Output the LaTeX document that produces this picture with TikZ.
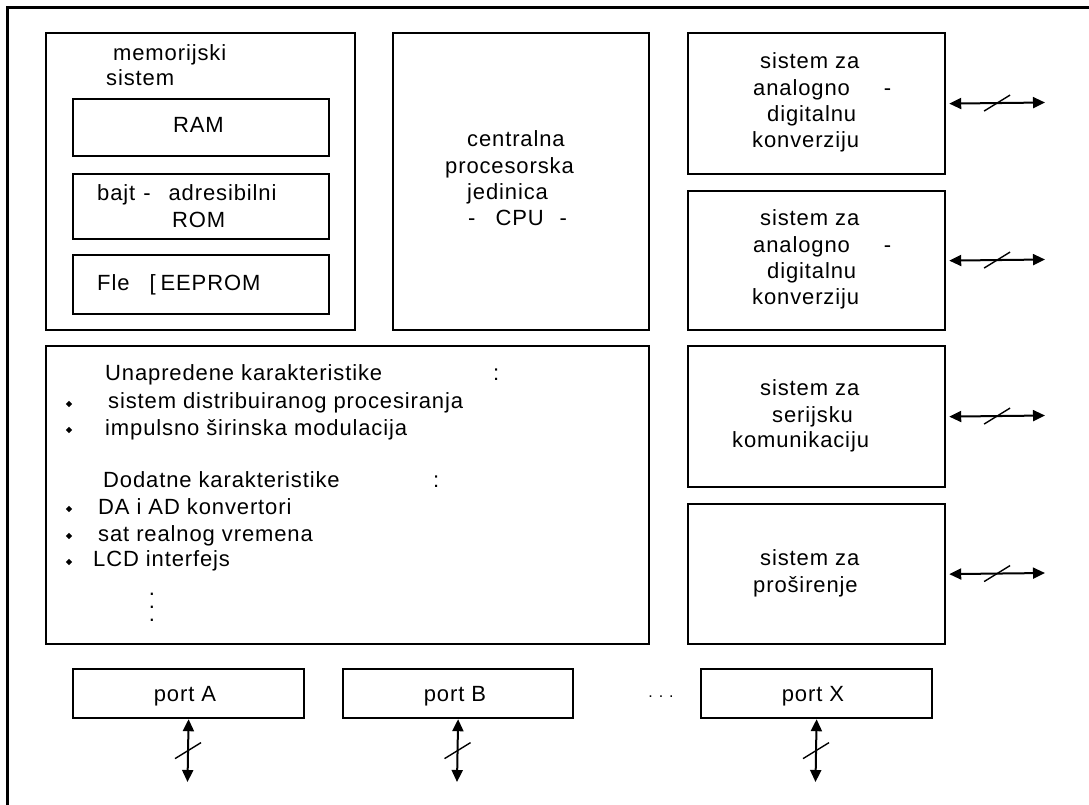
\documentclass[tikz,border=0pt]{standalone}
\usepackage{fontspec}
\setmainfont{Liberation Sans}[LetterSpace=4.0]
\usetikzlibrary{arrows.meta,shapes.geometric}
\begin{document}
\begin{tikzpicture}[x=1pt,y=-1pt,
  box/.style={draw, line width=2.2pt, anchor=north west, inner sep=0pt},
  txt/.style={anchor=base west, inner sep=0pt, font=\fontsize{22}{26}\selectfont},
  biarrow/.style={line width=2pt, {Triangle[length=12pt,width=11pt]}-{Triangle[length=12pt,width=11pt]}},
  slashline/.style={line width=1.4pt},
  bulletmark/.style={diamond, fill, inner sep=0pt, minimum size=6.5pt},
  dotmark/.style={anchor=base, inner sep=0pt, text height=3pt, text depth=0pt, font=\fontsize{22}{26}\selectfont}]
\useasboundingbox (0,0) rectangle (1089,804);
% outer frame (only top and left are visible)
\draw[line width=2.2pt] (1095,7.5) -- (7.5,7.5) -- (7.5,810);

% memory system
\node[box, minimum width=309pt, minimum height=297pt] (mem) at (45,32) {};
\node[txt] (memt1) at (113,60) {memorijski};
\node[txt] (memt2) at (106,85) {sistem};
\node[box, minimum width=256pt, minimum height=57pt] (ram) at (72,98) {};
\node[txt] (ramt) at (173,132) {RAM};
\node[box, minimum width=256pt, minimum height=65pt] (rom) at (72,173) {};
\node[txt] (romt1) at (97,200) {bajt\hspace{8pt}-\hspace{18pt}adresibilni};
\node[txt] (romt2) at (172,227) {ROM};
\node[box, minimum width=256pt, minimum height=59pt] (eep) at (72,254) {};
\node[txt] (eept) at (97,290) {Fle\hspace{20pt}[\hspace{5pt}EEPROM};

% CPU
\node[box, minimum width=256pt, minimum height=297pt] (cpu) at (392,32) {};
\node[txt] (cput1) at (467,146) {centralna};
\node[txt] (cput2) at (445,173) {procesorska};
\node[txt] (cput3) at (467,199) {jedinica};
\node[txt] (cput4) at (468,225) {-\hspace{20pt}CPU\hspace{16pt}-};

% right column
\node[box, minimum width=257pt, minimum height=141pt] (adc1) at (687,32) {};
\node[txt] (a1t1) at (760,68) {sistem za};
\node[txt] (a1t2) at (753,95) {analogno\hspace{34pt}-};
\node[txt] (a1t3) at (767,121) {digitalnu};
\node[txt] (a1t4) at (752,147) {konverziju};

\node[box, minimum width=257pt, minimum height=139pt] (adc2) at (687,190) {};
\node[txt] (a2t1) at (760,225) {sistem za};
\node[txt] (a2t2) at (753,252) {analogno\hspace{34pt}-};
\node[txt] (a2t3) at (767,278) {digitalnu};
\node[txt] (a2t4) at (752,304) {konverziju};

\node[box, minimum width=257pt, minimum height=141pt] (ser) at (687,345) {};
\node[txt] (st1) at (760,395) {sistem za};
\node[txt] (st2) at (772,422) {serijsku};
\node[txt] (st3) at (732,447) {komunikaciju};

\node[box, minimum width=257pt, minimum height=140pt] (ext) at (687,503) {};
\node[txt] (et1) at (760,565) {sistem za};
\node[txt] (et2) at (753,592) {proširenje};

% features
\node[box, minimum width=603pt, minimum height=298pt] (feat) at (45,345) {};
\node[txt] (f1) at (105,380) {Unapredene karakteristike};
\node[txt] (f1c) at (493,380) {:};
\node[bulletmark] (b1) at (69,404) {};
\node[txt] (f2) at (108,408) {sistem distribuiranog procesiranja};
\node[bulletmark] (b2) at (69,430) {};
\node[txt] (f3) at (105,435) {impulsno širinska modulacija};
\node[txt] (f4) at (103,487) {Dodatne karakteristike};
\node[txt] (f4c) at (433,487) {:};
\node[bulletmark] (b3) at (69,509) {};
\node[txt] (f5) at (98,514) {DA i AD konvertori};
\node[bulletmark] (b4) at (69,536) {};
\node[txt] (f6) at (98,541) {sat realnog vremena};
\node[bulletmark] (b5) at (69,562) {};
\node[txt] (f7) at (93,566) {LCD interfejs};
\node[dotmark] (vd1) at (152,595) {.};
\node[dotmark] (vd2) at (152,608) {.};
\node[dotmark] (vd3) at (152,621) {.};

% ports
\node[box, minimum width=231pt, minimum height=49pt] (portA) at (72,668) {};
\node[txt, anchor=base] (pAt) at (185,701) {port A};
\node[box, minimum width=230pt, minimum height=49pt] (portB) at (342,668) {};
\node[txt, anchor=base] (pBt) at (455,701) {port B};
\node[box, minimum width=231pt, minimum height=49pt] (portX) at (700,668) {};
\node[txt, anchor=base] (pXt) at (813,701) {port X};
\node[anchor=base, inner sep=0pt, font=\fontsize{16}{18}\selectfont] (pdots) at (661,697) {.\hspace{6pt}.\hspace{6pt}.};

% side connectors
\coordinate (r1) at (1045,102.5);
\coordinate (r2) at (1045,259.5);
\coordinate (r3) at (1045,415.5);
\coordinate (r4) at (1045,573);
\draw[biarrow] ([xshift=3pt]adc1.east) -- coordinate (m1) (r1);
\draw[biarrow] ([xshift=3pt]adc2.east) -- coordinate (m2) (r2);
\draw[biarrow] ([xshift=3pt]ser.east) -- coordinate (m3) (r3);
\draw[biarrow] ([xshift=3pt]ext.east) -- coordinate (m4) (r4);
\foreach \m in {m1,m2,m3,m4}{\draw[slashline] (\m) +(-13,8) -- +(13,-8);}

% port connectors
\coordinate (pa) at (187.5,782);
\coordinate (pb) at (457,782);
\coordinate (px) at (815.5,782);
\draw[biarrow] (portA.south) -- coordinate (ma) (pa);
\draw[biarrow] (portB.south) -- coordinate (mb) (pb);
\draw[biarrow] (portX.south) -- coordinate (mx) (px);
\foreach \m in {ma,mb,mx}{\draw[slashline] (\m) +(-13,8) -- +(13,-8);}
\end{tikzpicture}
\end{document}
